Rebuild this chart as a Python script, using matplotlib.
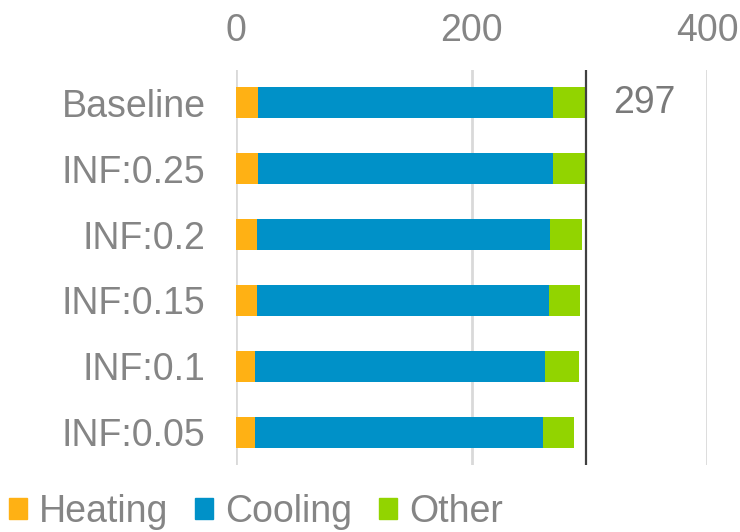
import matplotlib
matplotlib.use('Agg')
import numpy as np
from matplotlib import pyplot as plt
from matplotlib.patches import Patch

plt.rcParams['font.family'] = ['Liberation Sans', 'DejaVu Sans']

cases = ['Baseline', 'INF:0.25', 'INF:0.2', 'INF:0.15', 'INF:0.1', 'INF:0.05']
heating = [19, 19, 17.5, 18, 16, 16]
cooling = [250, 250, 249.5, 248, 246, 244.5]
other = [28, 28, 27, 26.5, 29, 26.5]
baseline_total = 297

c_heat = '#FFB114'
c_cool = '#0091C8'
c_other = '#92D400'
grey = '#858585'

fig = plt.figure(figsize=(7.4, 5.32), dpi=100)
ax = fig.add_axes([236/740, 67/532, 471/740, 395/532])

y = np.arange(len(cases))
h = np.array(heating)
c = np.array(cooling)
o = np.array(other)
ax.barh(y, h, height=0.47, color=c_heat, zorder=3)
ax.barh(y, c, left=h, height=0.47, color=c_cool, zorder=3)
ax.barh(y, o, left=h + c, height=0.47, color=c_other, zorder=3)

ax.axvline(baseline_total, color='#404040', lw=1.6, zorder=4)
ax.text(baseline_total + 50, 0, str(baseline_total), ha='center', va='center',
        fontsize=27, color='#7a7a7a')

ax.set_xlim(0, 400)
ax.set_ylim(-0.5, len(cases) - 0.5)
ax.invert_yaxis()
ax.set_xticks([0, 200, 400])
ax.set_yticks(y)
ax.set_yticklabels(cases)
ax.xaxis.tick_top()
ax.tick_params(axis='x', length=0, pad=15, labelsize=27, labelcolor=grey)
ax.tick_params(axis='y', length=0, pad=22, labelsize=27, labelcolor=grey)
ax.grid(axis='x', color='#d9d9d9', lw=2, zorder=0)
for s in ax.spines.values():
    s.set_visible(False)

handles = [Patch(color=c_heat, label='Heating'),
           Patch(color=c_cool, label='Cooling'),
           Patch(color=c_other, label='Other')]
leg = fig.legend(handles=handles, loc='lower left', bbox_to_anchor=(-0.034, -0.06),
                 ncol=3, frameon=False, fontsize=27, handlelength=0.48,
                 handleheight=0.48, handletextpad=0.32, columnspacing=0.72)
for t in leg.get_texts():
    t.set_color(grey)

fig.savefig('out.png', dpi=100)
